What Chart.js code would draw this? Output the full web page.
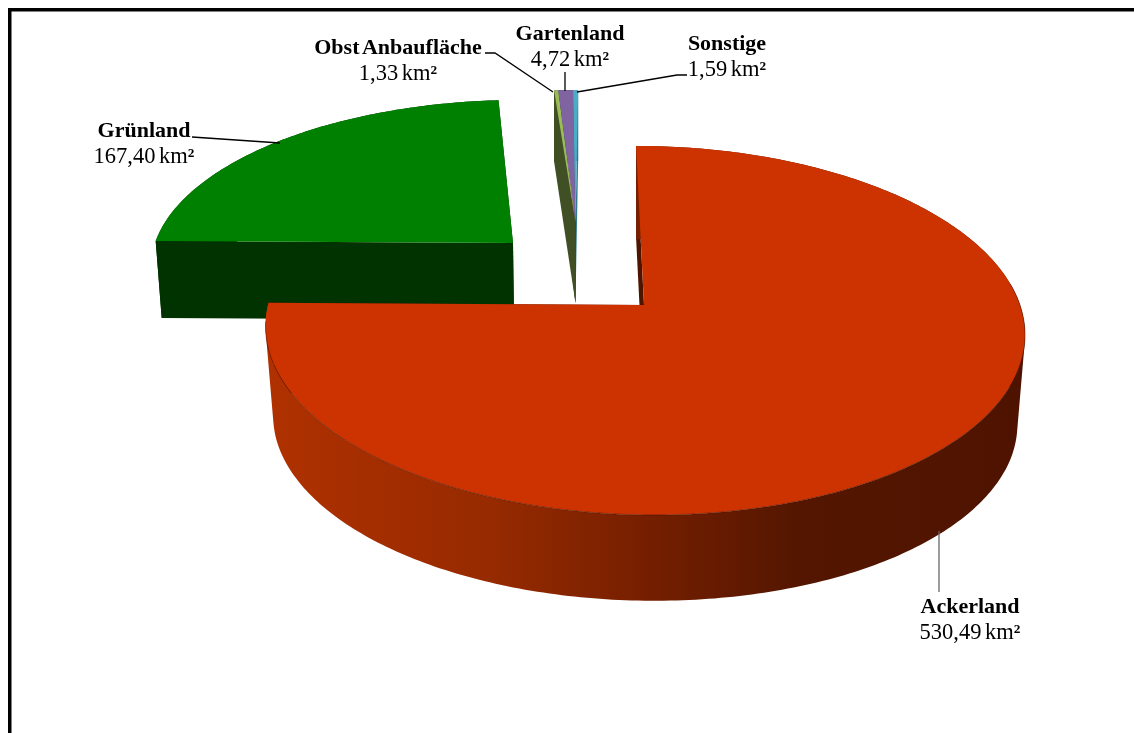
<!DOCTYPE html>
<html lang="de">
<head>
<meta charset="utf-8">
<title>Landwirtschaftliche Nutzfläche</title>
<script src="https://cdn.jsdelivr.net/npm/chart.js@4"></script>
<style>
html,body{margin:0;padding:0;background:#fff;overflow:hidden}
canvas{display:block}
</style>
</head>
<body>
<canvas id="c" width="1134" height="733"></canvas>
<script>
// Data
const categories = ['Ackerland', 'Grünland', 'Obst Anbaufläche', 'Gartenland', 'Sonstige'];
const areaKm2 = [530.49, 167.40, 1.33, 4.72, 1.59];
const unit = 'km';

// Styles
const topColors = ['#cc3300', '#008000', '#9bbb59', '#8064a2', '#4bacc6'];
const wallColors = ['#4e1400', '#003300', '#404f24', '#252048', '#2f7a90'];
const sideStops = [[0, '#b03100'], [0.3, '#962a00'], [0.5, '#751f00'], [0.7, '#541600'], [1, '#4e1300']];

// Projection of each exploded slice on the page
const narrow = {ax: 575.5, ay: 222, R: 400, k: 149, p: 0.13, sh: -3, dx: 0, dy: 81, fx: 1, fy: 1.076};
const slices = [
  {ax: 644, ay: 305, R: 376, k: 181, p: 0.138, sh: 9.1, dx: 0, dy: 90, fx: 0.98, fy: 0.98},
  {ax: 513, ay: 243, R: 358, k: 161.6, p: 0.13, sh: -8, dx: 1, dy: 77, fx: 0.986, fy: 0.986},
  narrow, narrow, narrow
];

// Label baselines and leader lines
const labelPos = [[970, 613], [144, 137], [398, 54], [570, 40], [727, 50]];
const labelGap = 25.5;
const leaders = [
  [[939, 531], [939, 592]],
  [[192, 137], [280, 143]],
  [[485, 53], [495, 53], [553, 92]],
  [[565, 72], [565, 91]],
  [[687, 75], [677, 75], [577, 92]]
];
const leaderColors = ['#666666', '#000000', '#000000', '#000000', '#000000'];

function project(L, theta, r, bottom) {
  const u = r * Math.sin(theta), v = -r * Math.cos(theta);
  const s = 1 / (1 - L.p * v);
  let x = (u * L.R + L.sh * v) * s, y = L.k * v * s;
  if (bottom) return [L.ax + L.dx + x * L.fx, L.ay + L.dy + y * L.fy];
  return [L.ax + x, L.ay + y];
}
function arcPts(L, a, b, bottom) {
  const n = Math.max(4, Math.ceil(Math.abs(b - a) / 0.015));
  const pts = [];
  for (let i = 0; i <= n; i++) pts.push(project(L, a + (b - a) * i / n, 1, bottom));
  return pts;
}
function addPoly(ctx, pts) {
  pts.forEach((p, i) => i ? ctx.lineTo(p[0], p[1]) : ctx.moveTo(p[0], p[1]));
  ctx.closePath();
}
function poly(ctx, pts, fill) {
  ctx.beginPath();
  addPoly(ctx, pts);
  ctx.fillStyle = fill;
  ctx.fill();
}
function angles(arc) {
  return [arc.startAngle + Math.PI / 2, arc.endAngle + Math.PI / 2];
}
function drawWalls(ctx, arc, i) {
  const L = slices[i], [a, b] = angles(arc), c = wallColors[i];
  [a, b].forEach(t => {
    poly(ctx, [project(L, t, 0, false), project(L, t, 1, false), project(L, t, 1, true), project(L, t, 0, true)], c);
  });
}
function signedArea(q) {
  let s = 0;
  q.forEach((p, i) => { const n = q[(i + 1) % q.length]; s += p[0] * n[1] - n[0] * p[1]; });
  return s;
}
function drawBand(ctx, arc, i, fill) {
  const L = slices[i], [a, b] = angles(arc);
  const up = arcPts(L, a, b, false), low = arcPts(L, a, b, true);
  ctx.beginPath();
  for (let j = 0; j < up.length - 1; j++) {
    const q = [up[j], up[j + 1], low[j + 1], low[j]];
    if (signedArea(q) < 0) q.reverse();
    addPoly(ctx, q);
  }
  ctx.fillStyle = fill;
  ctx.fill('nonzero');
}
function drawTop(ctx, arc, i) {
  const L = slices[i], [a, b] = angles(arc);
  poly(ctx, [project(L, a, 0, false)].concat(arcPts(L, a, b, false)), arc.options.backgroundColor);
  if (i === 0) {
    const front = arcPts(L, Math.max(a, 1.45), Math.min(b, 4.62), false);
    ctx.beginPath();
    front.forEach((p, j) => j ? ctx.lineTo(p[0], p[1]) : ctx.moveTo(p[0], p[1]));
    ctx.strokeStyle = 'rgba(60,15,0,0.6)';
    ctx.lineWidth = 0.8;
    ctx.stroke();
  }
}

const pie3d = {
  id: 'pie3d',
  beforeDatasetsDraw(chart) {
    const ctx = chart.ctx, arcs = chart.getDatasetMeta(0).data;
    ctx.save();
    // Frame
    ctx.fillStyle = '#000';
    ctx.fillRect(8, 8, 1126, 3.5);
    ctx.fillRect(8, 8, 3.5, 725);

    // Grünland
    drawWalls(ctx, arcs[1], 1);
    drawBand(ctx, arcs[1], 1, wallColors[1]);
    drawTop(ctx, arcs[1], 1);
    // Narrow slices
    [4, 3, 2].forEach(i => { drawWalls(ctx, arcs[i], i); drawBand(ctx, arcs[i], i, wallColors[i]); });
    [2, 3, 4].forEach(i => drawTop(ctx, arcs[i], i));
    // Ackerland
    const g = ctx.createLinearGradient(265, 0, 1027, 0);
    sideStops.forEach(s => g.addColorStop(s[0], s[1]));
    drawWalls(ctx, arcs[0], 0);
    drawBand(ctx, arcs[0], 0, g);
    drawTop(ctx, arcs[0], 0);

    // Leader lines
    leaders.forEach((line, i) => {
      ctx.beginPath();
      line.forEach((p, j) => j ? ctx.lineTo(p[0], p[1]) : ctx.moveTo(p[0], p[1]));
      ctx.strokeStyle = leaderColors[i];
      ctx.lineWidth = 1.3;
      ctx.stroke();
    });

    // Labels
    ctx.textBaseline = 'alphabetic';
    ctx.fillStyle = '#000';
    const bold = 'bold 22px "Liberation Serif"', regular = '22.5px "Liberation Serif"';
    categories.forEach((name, i) => {
      const [x, y] = labelPos[i];
      ctx.textAlign = 'center';
      ctx.wordSpacing = '-3px';
      ctx.font = bold;
      ctx.fillText(name, x, y);
      const main = areaKm2[i].toFixed(2).replace('.', ',') + ' ' + unit;
      ctx.wordSpacing = '-2px';
      ctx.font = regular;
      const w1 = ctx.measureText(main).width;
      ctx.font = bold;
      const w2 = ctx.measureText('²').width;
      ctx.textAlign = 'left';
      ctx.font = regular;
      ctx.fillText(main, x - (w1 + w2) / 2, y + labelGap);
      ctx.font = bold;
      ctx.fillText('²', x - (w1 + w2) / 2 + w1, y + labelGap);
    });
    ctx.restore();
    return false;
  }
};

new Chart(document.getElementById('c'), {
  type: 'pie',
  data: {
    labels: categories,
    datasets: [{data: areaKm2, backgroundColor: topColors, borderWidth: 0}]
  },
  options: {
    responsive: false,
    animation: false,
    rotation: 0,
    plugins: {legend: {display: false}, tooltip: {enabled: false}, title: {display: false}}
  },
  plugins: [pie3d]
});
</script>
</body>
</html>
